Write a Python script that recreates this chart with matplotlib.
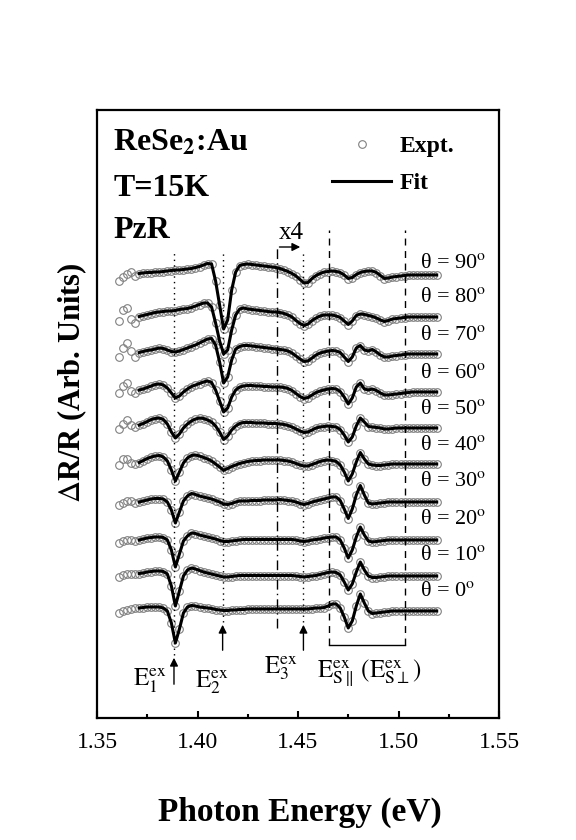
import numpy as np
import matplotlib
matplotlib.use('Agg')
import matplotlib.pyplot as plt
from matplotlib.ticker import MultipleLocator, FormatStrFormatter

plt.rcParams['font.family'] = ['Liberation Serif', 'DejaVu Serif']
plt.rcParams['mathtext.fontset'] = 'stix'

# photon energies of the sampled points (eV)
energy = np.linspace(1.361, 1.519, 80)

angles = [0, 10, 20, 30, 40, 50, 60, 70, 80, 90]

# dR/R (arb. units, relative to each trace's flat tail)
dr_0 = [-1.5, 0, 1, 2.5, 3, 3, 3.5, 4, 4, 4,
        4, 3, 0, -12, -32, -18, -2, 4, 5.5, 5,
        4, 3.5, 3, 2.5, 1.5, 1, 0.5, 0.5, 1, 1,
        1.5, 1.5, 2, 2, 2, 2, 2, 2, 2, 2,
        2, 2, 2, 2, 2, 2, 2, 2, 2.5, 3,
        3, 3.5, 5, 7, 7, 3, -6, -17, -10, 5,
        17, 8, 0, -2.5, -2, -1.5, -1, -0.5, 0, 0,
        0, 0, 0, 0, 0, 0, 0, 0, 0, 0]
dr_10 = [-0.5, 1.5, 2, 2.5, 2, 2.5, 3, 4, 4.5, 5,
         5, 4.5, 2, -10, -30, -15, 0, 6, 8, 7,
         5.5, 4, 3, 2, 1, 0, -1, -1, -0.5, 0,
         0.5, 0.5, 0.5, 0.5, 0.5, 0.5, 0.5, 0.5, 0.5, 0.5,
         0.5, 0.5, 0.5, 0.5, 0, -0.5, -1, -0.5, 0, 0.5,
         1.5, 2.5, 3.5, 4, 3.5, 1, -6, -14, -8, 4,
         14, 6, 0, -1.5, -1.5, -1, -0.5, 0, 0, 0,
         0, 0, 0, 0, 0, 0, 0, 0, 0, 0]
dr_20 = [-2.5, -0.5, 0, 0.5, -1, 0, 1, 2, 2.5, 3,
         3, 2.5, 0, -10, -27, -14, -1, 4, 7, 6.5,
         5, 4, 3, 2, 1, -0.5, -1.5, -1.5, -1, -0.5,
         0, 0.5, 0.5, 0.5, 0.5, 0.5, 0.5, 0.5, 0.5, 0.5,
         0.5, 0.5, 0.5, 0.5, 0, -1, -1.5, -1, 0, 0.5,
         1, 2, 2.5, 3, 3, 0, -8, -18, -10, 3,
         13, 5, -1, -2, -1.5, -1, -0.5, 0, 0, 0,
         0, 0, 0, 0, 0, 0, 0, 0, 0, 0]
dr_30 = [-2.5, -0.5, 1, 1, -1, 0, 1, 2, 3, 3.5,
         3.5, 3, 0, -8, -21, -10, 1, 6, 8.5, 7.5,
         6, 5, 4, 3, 1.5, 0, -2, -2.5, -1.5, 0,
         1, 1, 1, 1.5, 1.5, 1.5, 2, 2, 2, 2,
         2.5, 2, 1.5, 1, 0, -1.5, -2.5, -1.5, 0, 1,
         2, 3, 4, 5, 5, 1.5, -7, -16.5, -7, 7,
         16.5, 7, -1, -2, -1.5, -1, -0.5, 0, 0, 0,
         0, 0, 0, 0, 0, 0, 0, 0, 0, 0]
dr_40 = [-1, 5, 5, 1, 0, 1.5, 3.5, 5.5, 7, 8,
         8.5, 7, 3, -6, -17, -8, 1, 6, 8.5, 9,
         8, 6.5, 5, 3, 0, -3, -6.3, -4.5, -2.5, -1,
         0.5, 1.5, 2.5, 3, 3.5, 3.5, 4, 4, 4, 4,
         4, 3.5, 3, 2, 0.5, -1, -2, -2, -0.5, 1,
         2.5, 3.5, 4, 3.5, 2.5, -1, -8, -17, -10, 2,
         11.5, 5, 0, -1, -1.5, -1.5, -1, -0.5, 0, 0,
         0, 0, 0, 0, 0, 0, 0, 0, 0, 0]
dr_50 = [-1, 4, 8, 3, 1, 3, 4.5, 6.5, 8.5, 9.5,
         10, 8.5, 4, -4, -10, -6, 0, 4, 7, 9,
         10, 9.5, 8, 6, 2, -4, -11.5, -8, -2, 2,
         4.5, 5.5, 5.5, 5.5, 5, 5, 5, 4.5, 4.5, 4.5,
         4, 3.5, 2.5, 1, -1, -3, -4.5, -4, -2, 0,
         1, 1.5, 2, 1.5, 1, -1.5, -7, -14, -9, 2,
         10, 6, 1.5, 1, 0.5, 0, -1, -1, -0.5, 0,
         0, 0, 0, 0, 0, 0, 0, 0, 0, 0]
dr_60 = [-1, 6, 9, 1, -1, 2, 3, 4.5, 6, 7.5,
         8, 7, 4, -1, -6, -4, 0, 3, 5.5, 7,
         8.5, 10, 11, 9.5, 2, -9, -20, -16, -5, 2,
         5, 6, 6.5, 6.5, 6, 6, 5.5, 5.5, 5, 5,
         5, 4.5, 3.5, 1.5, -1.5, -4.5, -6.5, -5.5, -3, -0.5,
         1, 2, 3, 3.5, 3, 0.5, -5, -12, -6, 5,
         9, 3, 2, 3, 1.5, -1, -3, -3, -2.5, -2,
         -1.5, -1, -0.5, 0, 0, 0, 0, 0, 0, 0]
dr_70 = [-3, 6, 11, 3, -3, 1.5, 2.5, 3.5, 4, 5,
         6, 5.5, 4, 2.5, 2, 3, 4.5, 6, 7.5, 9,
         11, 13, 15, 15.5, 9, -8, -29, -23, -6, 5,
         7.5, 8.5, 8.5, 8, 7.5, 7, 6.5, 6, 5.5, 5,
         4.5, 4, 3, 1, -2, -5, -7.5, -7, -4, -1,
         1, 2, 3, 3.5, 3, 1.5, -3, -7.5, -3, 6,
         8.5, 4, 3, 4.5, 2, -1, -3, -3, -2, -1.5,
         -1, -0.5, 0, 0, 0, 0, 0, 0, 0, 0]
dr_80 = [-4, 7, 9, -2, -6, 0.5, 1.5, 2.5, 3.5, 4.5,
         5, 5.5, 6, 6, 6.5, 7.5, 8, 8.5, 9.5, 11,
         12.5, 14, 14, 10, -6, -24, -37, -33, -13, 2,
         8, 9, 8, 7.5, 7, 6.5, 6, 5.5, 5, 5,
         4.5, 3.5, 2, 0, -3.5, -6.5, -8.5, -7, -3.5, -1,
         1, 2, 2, 2, 1, -0.5, -4, -7.5, -4, 1.5,
         3, 2.5, 1.5, 0.5, -1, -3, -4.5, -3.5, -2, -1.5,
         -1, -0.5, 0, 0, 0, 0, 0, 0, 0, 0]
dr_90 = [-5.5, -2, 1.5, 3, -1, 1.5, 2, 2.5, 2.5, 3,
         3, 3.5, 4, 4.5, 5, 5, 5.5, 6, 6.5, 7.5,
         8.5, 10, 11.5, 11, -6, -30, -54, -45, -15, 3,
         9.5, 10.5, 11, 10.5, 10, 9.5, 9, 8.5, 8, 7.5,
         6.5, 5, 3.5, 1.5, -1, -4.5, -8, -7.5, -3.5, -0.5,
         1.5, 3, 3.5, 4, 3.5, 2.5, 0, -3.5, -2.5, 0.5,
         2.5, 3.5, 4, 4, 2.5, -0.5, -3.5, -3, -2, -1.5,
         -1, -0.5, 0, 0, 0, 0, 0, 0, 0, 0]

spectra = [dr_0, dr_10, dr_20, dr_30, dr_40, dr_50, dr_60, dr_70, dr_80, dr_90]

# transition energies marked in the figure (eV)
e1, e2, e3 = 1.3883, 1.4125, 1.4527
x4_start = 1.4394
es_lo, es_hi = 1.4653, 1.5034

# layout: vertical stacking of the traces
offsets = [107, 142, 178, 216, 254, 290, 326, 364, 401, 443]
label_y = [126, 163, 199, 236, 272, 308, 345, 383, 420, 455]
fit_start = 5  # fit curve begins a few points after the data

fig = plt.figure(figsize=(5.76, 8.4), dpi=100)
ax = fig.add_axes([97/576, 1 - 718/840, 402/576, 608/840])

for i, th in enumerate(angles):
    y = np.array(spectra[i]) + offsets[i]
    h_exp, = ax.plot(energy, y, 'o', ms=5.5, mfc='none', mec='#808080', mew=0.8, zorder=2)
    h_fit, = ax.plot(energy[fit_start:], y[fit_start:], '-', color='k', lw=2.2, zorder=3)
    ax.text(1.5107, label_y[i], 'θ = %d$^{\\rm o}$' % th, fontsize=16,
            ha='left', va='center')

# guide lines
dot = (0, (1, 3))
ax.plot([e1, e1], [63, 468], ls=dot, color='k', lw=1)
ax.plot([e2, e2], [96, 468], ls=dot, color='k', lw=1)
ax.plot([e3, e3], [96, 468], ls=dot, color='k', lw=1)
ax.plot([x4_start, x4_start], [90, 471], ls=(0, (7, 3, 1, 3)), color='k', lw=1)
ax.plot([es_lo, es_lo], [73, 488], ls=(0, (5, 4)), color='k', lw=1)
ax.plot([es_hi, es_hi], [73, 488], ls=(0, (5, 4)), color='k', lw=1)
ax.plot([es_lo, es_hi], [73, 73], '-', color='k', lw=1)

arrow = dict(arrowstyle='-|>', color='k', lw=1, mutation_scale=12)
ax.annotate('', xy=(e1, 63), xytext=(e1, 31), arrowprops=arrow)
ax.annotate('', xy=(e2, 96), xytext=(e2, 65), arrowprops=arrow)
ax.annotate('', xy=(e3, 96), xytext=(e3, 65), arrowprops=arrow)
ax.annotate('', xy=(1.4525, 471), xytext=(x4_start, 471), arrowprops=arrow)
ax.text(1.4465, 485, 'x4', fontsize=18, ha='center', va='center')

ax.text(1.3764, 37, r'$\mathrm{E}_{1}^{\mathrm{ex}}$', fontsize=18, ha='center', va='center')
ax.text(1.4072, 36, r'$\mathrm{E}_{2}^{\mathrm{ex}}$', fontsize=18, ha='center', va='center')
ax.text(1.4416, 50, r'$\mathrm{E}_{3}^{\mathrm{ex}}$', fontsize=18, ha='center', va='center')
ax.text(1.4853, 45, r'$\mathrm{E}_{\mathrm{S}\parallel}^{\mathrm{ex}}\,(\mathrm{E}_{\mathrm{S}\perp}^{\mathrm{ex}})$',
        fontsize=18, ha='center', va='center')

# sample info
ax.text(1.358, 575, r'ReSe$_\mathbf{2}$:Au', fontsize=23, fontweight='bold', va='center')
ax.text(1.358, 530, 'T=15K', fontsize=23, fontweight='bold', va='center')
ax.text(1.358, 488, 'PzR', fontsize=23, fontweight='bold', va='center')

ax.legend([h_exp, h_fit], ['Expt.', 'Fit'], loc='upper left', bbox_to_anchor=(0.585, 0.958),
          frameon=False, handlelength=2.5, handletextpad=0.35, borderpad=0, borderaxespad=0,
          labelspacing=0.65, prop={'weight': 'bold', 'size': 17})

ax.set_xlim(1.35, 1.55)
ax.set_ylim(0, 608)
ax.set_yticks([])
ax.xaxis.set_major_locator(MultipleLocator(0.05))
ax.xaxis.set_minor_locator(MultipleLocator(0.025))
ax.xaxis.set_major_formatter(FormatStrFormatter('%.2f'))
ax.tick_params(axis='x', which='major', direction='in', length=5, width=1.5, labelsize=17, pad=10)
ax.tick_params(axis='x', which='minor', direction='in', length=3, width=1.5)
for s in ax.spines.values():
    s.set_linewidth(1.6)

ax.set_xlabel('Photon Energy (eV)', fontsize=24, fontweight='bold')
ax.xaxis.set_label_coords(0.505, -0.155)
ax.xaxis.label.set_va('center')
ax.set_ylabel(r'$\Delta$R/R (Arb. Units)', fontsize=22, fontweight='bold')
ax.yaxis.set_label_coords(-0.062, 0.551)
ax.yaxis.label.set_va('center')

fig.savefig('out.png', dpi=100)
